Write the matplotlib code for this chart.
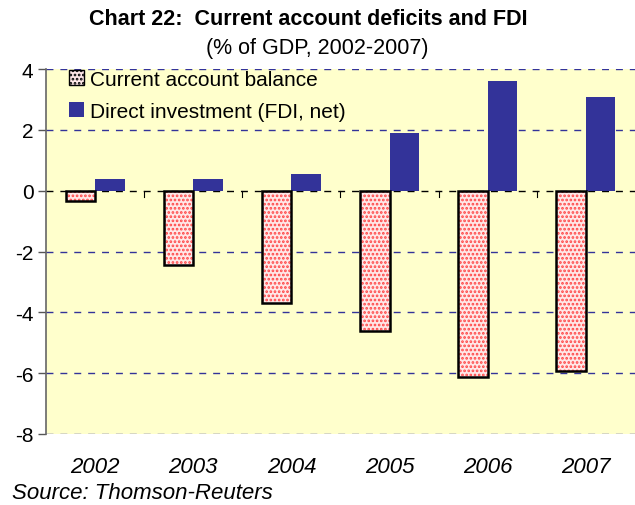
import numpy as np
import matplotlib.pyplot as plt
from matplotlib.patches import Patch

plt.rcParams['font.family'] = ['Liberation Sans', 'DejaVu Sans']
plt.rcParams['hatch.linewidth'] = 1.3

years = ['2002', '2003', '2004', '2005', '2006', '2007']
current_account = [-0.35, -2.45, -3.68, -4.6, -6.12, -5.93]
fdi_net = [0.4, 0.4, 0.54, 1.88, 3.6, 3.07]

fig = plt.figure(figsize=(6.35, 5.06), dpi=100)
ax = fig.add_axes([46/635, 71/506, 589/635, 365/506])
ax.set_facecolor('#ffffcc')

x = np.arange(len(years))
w = 0.3

# current account bars: red dotted fill, then black outline on top
ax.bar(x - w/2, current_account, w, color='#ffe8e8', edgecolor='#ff4444',
       hatch='....', linewidth=0, zorder=3)
ax.bar(x - w/2, current_account, w, fill=False, edgecolor='black',
       linewidth=1.8, zorder=4)
ax.bar(x + w/2, fdi_net, w, color='#333399', linewidth=0, zorder=3)

# gridlines
for yv in [4, 2, -2, -4, -6, -8]:
    ax.axhline(yv, color='#333399', ls=(0, (5, 5)), lw=1, zorder=1)
ax.axhline(0, color='black', ls=(0, (5, 5)), lw=1, zorder=2)

# tick marks at category boundaries along zero line
for b in np.arange(0.5, len(years) - 0.5):
    ax.plot([b, b], [0, -0.2], color='black', lw=0.8, zorder=2)

ax.set_xlim(-0.5, len(years) - 0.5)
ax.set_ylim(-8, 4)
ax.set_yticks(range(-8, 5, 2))
ax.set_yticklabels([str(v) for v in range(-8, 5, 2)], fontsize=15)
ax.tick_params(axis='y', length=6, width=1, color='#555555', pad=3)
ax.set_xticks(x)
ax.set_xticklabels(years, fontsize=16, style='italic')
ax.tick_params(axis='x', length=0, pad=16)

for s in ['top', 'right', 'bottom']:
    ax.spines[s].set_visible(False)
ax.spines['left'].set_color('#666666')
ax.spines['left'].set_linewidth(1.2)

handles = [Patch(facecolor='#ffe8e8', edgecolor='black', hatch='....', label='Current account balance'),
           Patch(facecolor='#333399', label='Direct investment (FDI, net)')]
ax.legend(handles=handles, loc='upper left', bbox_to_anchor=(0.025, 1.02), frameon=False,
          fontsize=15, handlelength=0.7, handleheight=0.7, handletextpad=0.3,
          labelspacing=0.6, borderaxespad=0)

fig.text(0.485, 0.962, 'Chart 22:  Current account deficits and FDI', ha='center', va='center',
         fontsize=15.5, fontweight='bold')
fig.text(0.5, 0.905, '(% of GDP, 2002-2007)', ha='center', va='center', fontsize=15.5)
fig.text(12/635, 0.024, 'Source: Thomson-Reuters', ha='left', va='center', fontsize=16, style='italic')

fig.savefig('out.png', dpi=100)
